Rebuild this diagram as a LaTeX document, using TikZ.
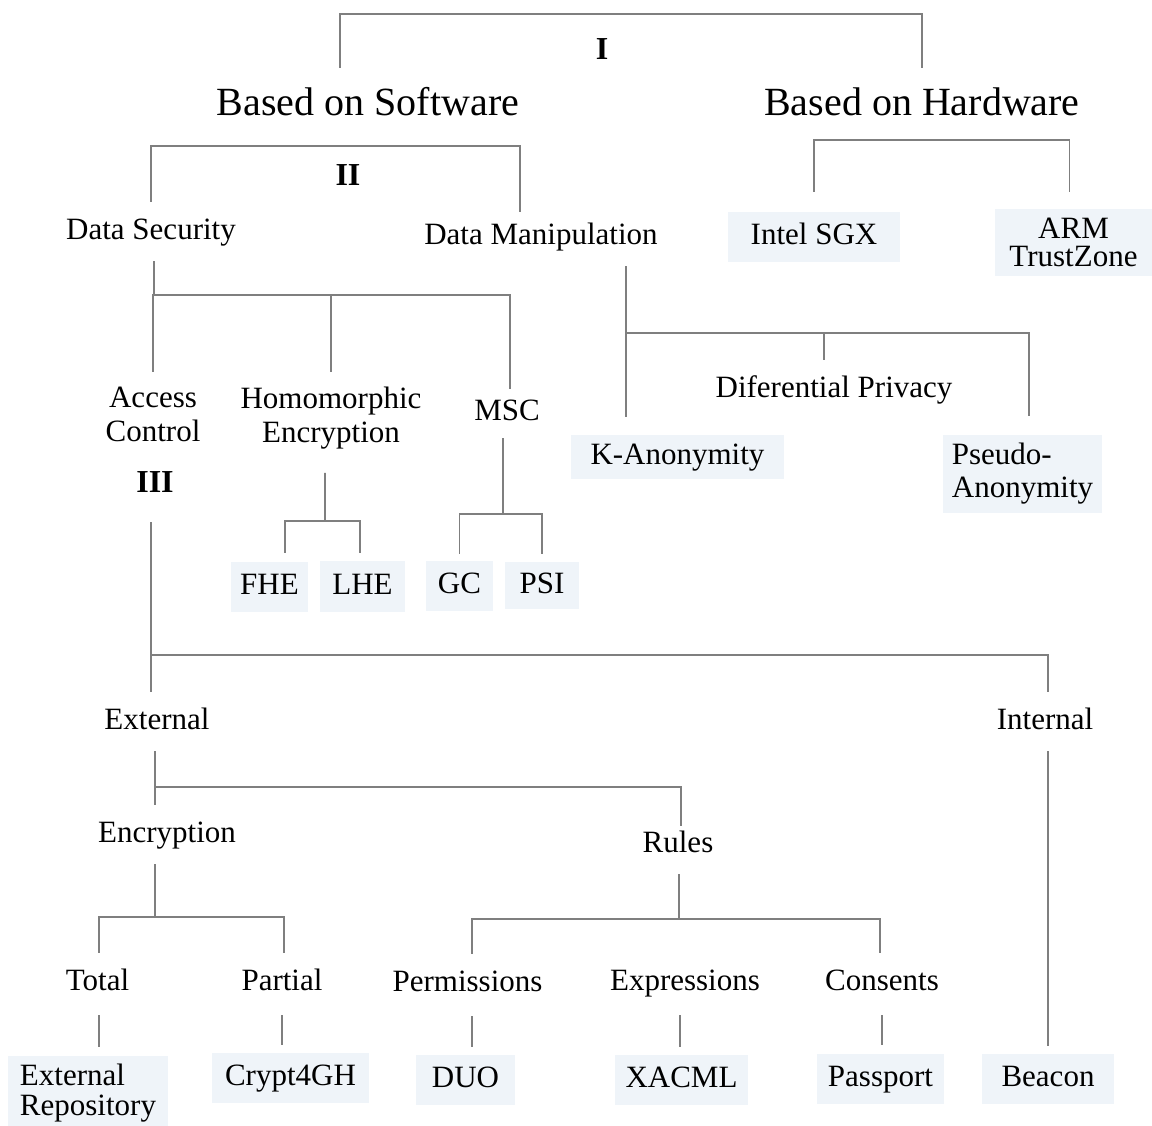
\documentclass[tikz,border=0pt]{standalone}
\usepackage{fontspec}
\setmainfont{Liberation Serif}

\definecolor{linkgray}{HTML}{7F7F7F}
\definecolor{leafblue}{HTML}{EFF4F9}

\begin{document}
\begin{tikzpicture}[
  x=1bp, y=-1bp,
  every node/.style={inner sep=2pt, text=black},
  lbl/.style={font=\fontsize{31bp}{34bp}\selectfont, text height=22bp, text depth=7bp, inner ysep=15bp},
  pile/.style={font=\fontsize{31bp}{34bp}\selectfont, align=center, inner ysep=15bp},
  big/.style={font=\fontsize{40bp}{44bp}\selectfont, text height=28bp, text depth=9bp, inner ysep=19bp},
  tag/.style={font=\fontsize{32bp}{34bp}\selectfont\bfseries, text height=22bp, text depth=7bp, inner ysep=15bp},
  leaf/.style={fill=leafblue, font=\fontsize{31bp}{34bp}\selectfont, text height=22bp, text depth=7bp, inner sep=0pt, minimum height=50bp},
  leafpile/.style={fill=leafblue, font=\fontsize{31bp}{33bp}\selectfont, inner sep=0pt},
  link/.style={draw=linkgray, line width=1.6bp},
  stub/.style={link, shorten <=3bp, shorten >=8bp}
]
\useasboundingbox (0,0) rectangle (1152,1126);

% Level I: software / hardware
\node[big] (sw) at (368,105.5) {Based on Software};
\node[big] (hw) at (922,105.5) {Based on Hardware};
\node[tag] (lI) at (602,52) {I};

% Level II
\node[lbl] (ds) at (151,231.5) {Data Security};
\node[lbl] (dm) at (541,236.5) {Data Manipulation};
\node[tag] (lII) at (348,177.5) {II};
\node[leaf, minimum width=172bp] (sgx) at (814,237) {Intel SGX};
\node[leafpile, align=center, minimum width=157bp, minimum height=67bp,
      font=\fontsize{31bp}{28bp}\selectfont] (arm) at (1073.5,242.5) {ARM\\TrustZone};

% Data security branch
\node[pile] (ac) at (153,414.5) {Access\\Control};
\node[pile] (he) at (331,418.5) {Homomorphic\\Encryption};
\node[lbl] (msc) at (507,412.5) {MSC};
\node[tag] (lIII) at (155,484.5) {III};
\node[leaf, minimum width=77bp] (fhe) at (269.5,587) {FHE};
\node[leaf, minimum width=85bp, minimum height=51bp] (lhe) at (362.5,586.5) {LHE};
\node[leaf, minimum width=67bp] (gc) at (459.5,586) {GC};
\node[leaf, minimum width=74bp, minimum height=47bp] (psi) at (542,585.5) {PSI};

% Data manipulation branch
\node[leaf, minimum width=213bp, minimum height=44bp] (kan) at (677.5,457) {K-Anonymity};
\node[lbl] (dp) at (834,389.5) {Diferential Privacy};
\node[leafpile, align=left, minimum width=159bp, minimum height=78bp] (pan) at (1022.5,474) {Pseudo-\\Anonymity};

% Access control branch
\node[lbl] (ext) at (157,721.5) {External};
\node[lbl] (int) at (1045,721.5) {Internal};
\node[lbl] (enc) at (167,834.5) {Encryption};
\node[lbl] (rul) at (678,844.5) {Rules};
\node[lbl] (tot) at (97.5,982.5) {Total};
\node[lbl] (par) at (282,982.5) {Partial};
\node[lbl] (per) at (467.5,983.5) {Permissions};
\node[lbl] (exr) at (685,982.5) {Expressions};
\node[lbl] (con) at (882,982.5) {Consents};

% bottom row
\node[leafpile, align=left, minimum width=160bp, minimum height=75bp,
      font=\fontsize{31bp}{30bp}\selectfont] (exrep) at (88,1093) {External\\Repository};
\node[leaf, minimum width=157bp] (crypt) at (290.5,1078) {Crypt4GH};
\node[leaf, minimum width=99bp] (duo) at (465.5,1080) {DUO};
\node[leaf, minimum width=133bp] (xacml) at (681.5,1080) {XACML};
\node[leaf, minimum width=127bp] (pass) at (880.5,1078.5) {Passport};
\node[leaf, minimum width=132bp] (beacon) at (1048,1078.5) {Beacon};

% junctions of the brackets
\coordinate (jI)   at (602,14);
\coordinate (jII)  at (348,146);
\coordinate (jHW)  at (941,140);
\coordinate (jDS)  at (154,295);
\coordinate (jHE)  at (325,521);
\coordinate (jMSC) at (503,514);
\coordinate (jDM)  at (626,333);
\coordinate (jAC)  at (151,655);
\coordinate (jEXT) at (155,787);
\coordinate (jENC) at (155,917);
\coordinate (jRUL) at (679,919);

% brackets
\draw[link] ([xshift=-28bp]sw.north) |- (jI) -| (hw.north);
\draw[link, shorten >=-5bp] (ds.north) |- (jII) -| ([xshift=-21bp]dm.north);
\draw[link, shorten <=20bp, shorten >=17bp] (sgx.north) |- (jHW) -| ([xshift=-4bp]arm.north);

\draw[link] ([xshift=3bp]ds.south) -- (jDS);
\draw[link] (jDS) -| (ac.north);
\draw[link] (jDS) -| (he.north);
\draw[link, shorten >=-6bp] (jDS) -| ([xshift=3bp]msc.north);

\draw[link, shorten <=8bp] ([xshift=-6bp]he.south) -- (jHE);
\draw[link, shorten >=9bp] (jHE) -| ([xshift=15.5bp]fhe.north);
\draw[link, shorten >=8bp] (jHE) -| ([xshift=-2.5bp]lhe.north);

\draw[link, shorten <=-4bp] ([xshift=-4bp]msc.south) -- (jMSC);
\draw[link, shorten >=7bp] (jMSC) -| (gc.north);
\draw[link, shorten >=8bp] (jMSC) -| (psi.north);

\draw[link] ([xshift=85bp]dm.south) -- (jDM);
\draw[link, shorten >=18bp] (jDM) -| ([xshift=-51.5bp]kan.north);
\draw[link] (jDM) -| ([xshift=-10bp]dp.north);
\draw[link, shorten >=19bp] (jDM) -| ([xshift=6.5bp]pan.north);

\draw[link, shorten <=8bp] ([xshift=-4bp]lIII.south) -- (jAC);
\draw[link] (jAC) -| ([xshift=-6bp]ext.north);
\draw[link] (jAC) -| ([xshift=3bp]int.north);

\draw[link] ([xshift=-2bp]ext.south) -- (jEXT);
\draw[link] (jEXT) -| ([xshift=-12bp]enc.north);
\draw[link, shorten >=-11bp] (jEXT) -| ([xshift=3bp]rul.north);

\draw[link] ([xshift=-12bp]enc.south) -- (jENC);
\draw[link] (jENC) -| ([xshift=1.5bp]tot.north);
\draw[link] (jENC) -| ([xshift=2bp]par.north);

\draw[link] ([xshift=1bp]rul.south) -- (jRUL);
\draw[link] (jRUL) -| ([xshift=4.5bp]per.north);
\draw[link] (jRUL) -| ([xshift=-2bp]con.north);

% short stubs down to the leaves
\draw[stub] ([xshift=1.5bp]tot.south) -- ([xshift=1.5bp]tot.south |- exrep.north);
\draw[stub] (par.south) -- (par.south |- crypt.north);
\draw[stub] ([xshift=4.5bp]per.south) -- ([xshift=4.5bp]per.south |- duo.north);
\draw[stub] ([xshift=-5bp]exr.south) -- ([xshift=-5bp]exr.south |- xacml.north);
\draw[stub] (con.south) -- (con.south |- pass.north);
\draw[link, shorten >=7bp] ([xshift=3bp]int.south) -- ([xshift=3bp]int.south |- beacon.north);

\end{tikzpicture}
\end{document}
